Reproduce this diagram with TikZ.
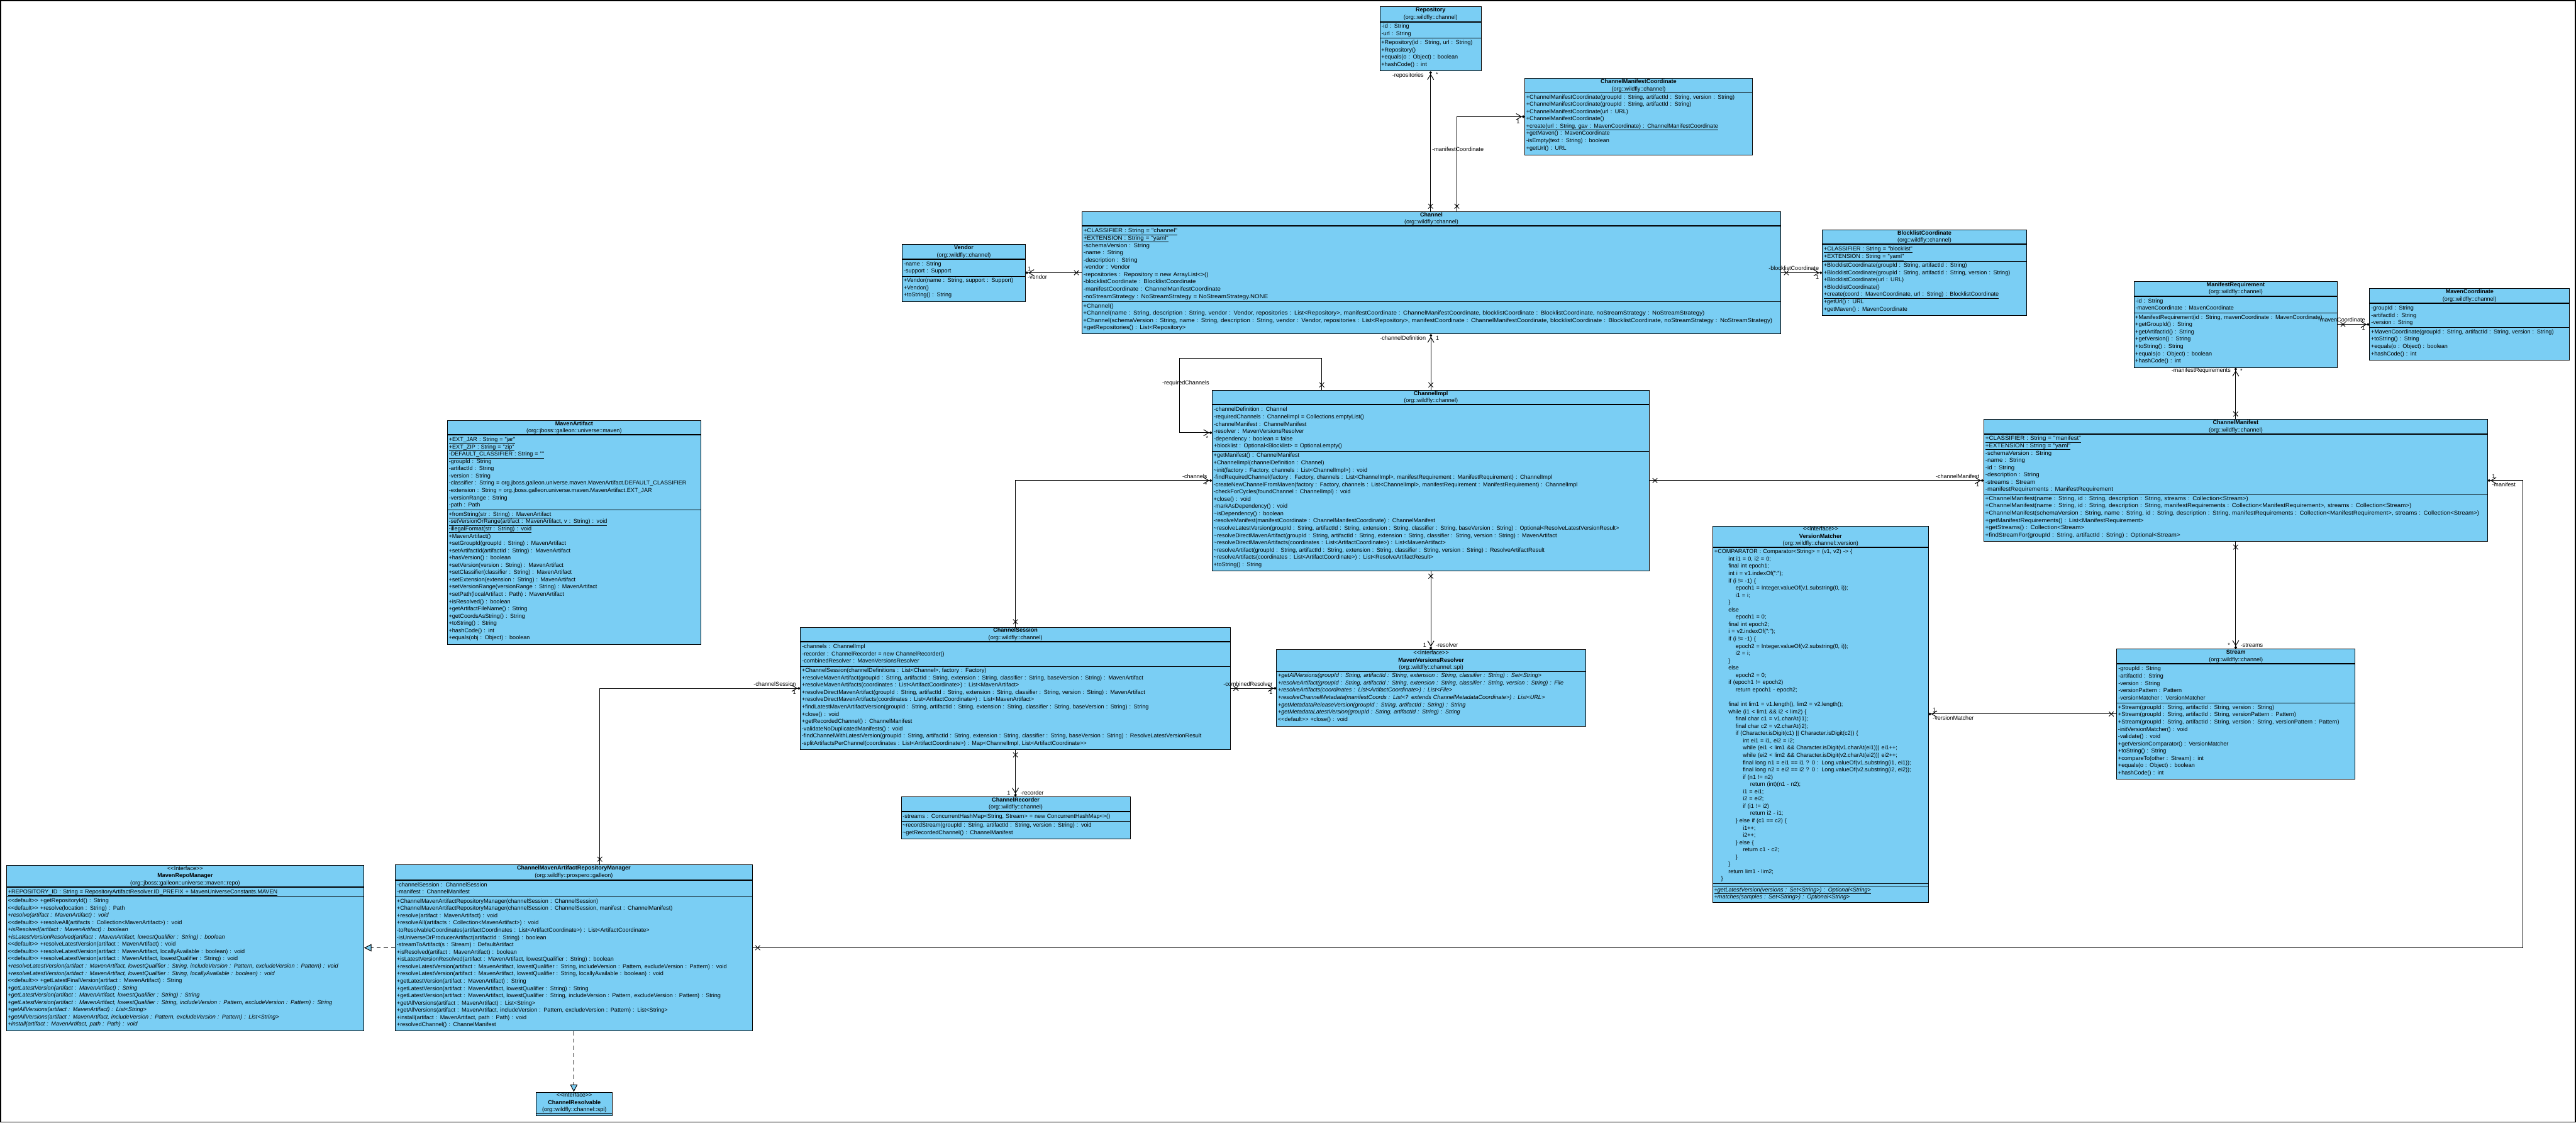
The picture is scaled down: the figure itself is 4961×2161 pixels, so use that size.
\documentclass[tikz,border=0pt]{standalone}
\usepackage{fontspec}
\newfontfamily\umlfont{Liberation Sans}
\newfontfamily\umlmid[FakeStretch=1.07]{Liberation Sans}
\usetikzlibrary{
  arrows.meta,
  positioning,
  calc,
  shapes.misc
}
\definecolor{umlblue}{RGB}{122,206,244}
\newcommand{\rows}[1]{\noindent\begin{tabular}{@{}l@{}}#1\end{tabular}}
\newcommand{\indl}[1]{\hspace*{#1pt}}

\begin{document}
\begin{tikzpicture}[
      x=1pt, y=-1pt,
      every node/.style={font=\umlfont\fontsize{11}{14}\selectfont},
      box/.style={draw, fill=umlblue, line width=1.2pt, anchor=north west,
                  inner sep=0pt},
      head/.style={draw, line width=1.2pt, anchor=north west, align=center,
                   inner xsep=3pt, inner ysep=0pt},
      part/.style={anchor=north west, inner xsep=3pt, inner ysep=1pt},
      sep/.style={part, draw, line width=1.2pt},
      mid/.style={font=\umlmid\fontsize{11}{14}\selectfont},
      own/.style={line width=1.2pt,
                  -{Straight Barb[length=10pt, width=12pt, line width=1.2pt]Circle[length=5pt]}},
      real/.style={line width=1.2pt, dash pattern=on 8pt off 6pt,
                   -{Triangle[length=14pt, width=14pt, fill=umlblue, line width=1.2pt]}},
      xm/.style={cross out, draw, line width=1.1pt, minimum size=8pt, inner sep=0pt},
      lab/.style={inner sep=1pt}
  ]
      \useasboundingbox (0,0) rectangle (4961,2161);
      \draw[line width=2pt] (1,1) rectangle (4960,2160);

      % Repository
      \node[box, minimum width=195pt, minimum height=124pt] (repo) at (2657,12) {};
      \node[head, minimum width=195pt, minimum height=29pt] (repo-h) at (repo.north west)
          {\textbf{Repository}\\(org::wildfly::channel)};
      \node[sep, text width=189pt, minimum height=31pt] (repo-a) at (repo-h.south west)
          {\rows{-id : String\\-url : String}};
      \node[part, text width=189pt] (repo-m) at (repo-a.south west)
          {\rows{+Repository(id : String, url : String)\\+Repository()\\
           +equals(o : Object) : boolean\\+hashCode() : int}};

      % ChannelManifestCoordinate
      \node[box, minimum width=438pt, minimum height=148pt] (cmc) at (2936,150) {};
      \node[head, minimum width=438pt, minimum height=28pt] (cmc-h) at (cmc.north west)
          {\textbf{ChannelManifestCoordinate}\\(org::wildfly::channel)};
      \node[part, text width=432pt] (cmc-m) at (cmc-h.south west)
          {\rows{+ChannelManifestCoordinate(groupId : String, artifactId : String, version : String)\\
           +ChannelManifestCoordinate(groupId : String, artifactId : String)\\
           +ChannelManifestCoordinate(url : URL)\\
           +ChannelManifestCoordinate()\\
           \underline{+create(url : String, gav : MavenCoordinate) : ChannelManifestCoordinate}\\
           +getMaven() : MavenCoordinate\\
           -isEmpty(text : String) : boolean\\
           +getUrl() : URL}};

      % Channel
      \node[box, minimum width=1346pt, minimum height=235pt] (chan) at (2083,407) {};
      \node[head, minimum width=1346pt, minimum height=27pt] (chan-h) at (chan.north west)
          {\textbf{Channel}\\(org::wildfly::channel)};
      \node[sep, mid, text width=1340pt, minimum height=145pt] (chan-a) at (chan-h.south west)
          {\rows{\underline{+CLASSIFIER : String = "channel"}\\
           \underline{+EXTENSION : String = "yaml"}\\
           -schemaVersion : String\\
           -name : String\\
           -description : String\\
           -vendor : Vendor\\
           -repositories : Repository = new ArrayList<>()\\
           -blocklistCoordinate : BlocklistCoordinate\\
           -manifestCoordinate : ChannelManifestCoordinate\\
           -noStreamStrategy : NoStreamStrategy = NoStreamStrategy.NONE}};
      \node[part, mid, text width=1340pt] (chan-m) at (chan-a.south west)
          {\rows{+Channel()\\
           +Channel(name : String, description : String, vendor : Vendor, repositories : List<Repository>, manifestCoordinate : ChannelManifestCoordinate, blocklistCoordinate : BlocklistCoordinate, noStreamStrategy : NoStreamStrategy)\\
           +Channel(schemaVersion : String, name : String, description : String, vendor : Vendor, repositories : List<Repository>, manifestCoordinate : ChannelManifestCoordinate, blocklistCoordinate : BlocklistCoordinate, noStreamStrategy : NoStreamStrategy)\\
           +getRepositories() : List<Repository>}};

      % Vendor
      \node[box, minimum width=237pt, minimum height=110pt] (vend) at (1737,470) {};
      \node[head, minimum width=237pt, minimum height=28pt] (vend-h) at (vend.north west)
          {\textbf{Vendor}\\(org::wildfly::channel)};
      \node[sep, text width=231pt, minimum height=32pt] (vend-a) at (vend-h.south west)
          {\rows{-name : String\\-support : Support}};
      \node[part, text width=231pt] (vend-m) at (vend-a.south west)
          {\rows{+Vendor(name : String, support : Support)\\+Vendor()\\+toString() : String}};

      % BlocklistCoordinate
      \node[box, minimum width=393pt, minimum height=165pt] (blc) at (3509,442) {};
      \node[head, minimum width=393pt, minimum height=27pt] (blc-h) at (blc.north west)
          {\textbf{BlocklistCoordinate}\\(org::wildfly::channel)};
      \node[sep, text width=387pt, minimum height=32pt] (blc-a) at (blc-h.south west)
          {\rows{\underline{+CLASSIFIER : String = "blocklist"}\\
           \underline{+EXTENSION : String = "yaml"}}};
      \node[part, text width=387pt] (blc-m) at (blc-a.south west)
          {\rows{+BlocklistCoordinate(groupId : String, artifactId : String)\\
           +BlocklistCoordinate(groupId : String, artifactId : String, version : String)\\
           +BlocklistCoordinate(url : URL)\\
           +BlocklistCoordinate()\\
           \underline{+create(coord : MavenCoordinate, url : String) : BlocklistCoordinate}\\
           +getUrl() : URL\\
           +getMaven() : MavenCoordinate}};

      % ManifestRequirement
      \node[box, minimum width=392pt, minimum height=166pt] (mreq) at (4109,541) {};
      \node[head, minimum width=392pt, minimum height=28pt] (mreq-h) at (mreq.north west)
          {\textbf{ManifestRequirement}\\(org::wildfly::channel)};
      \node[sep, text width=386pt, minimum height=32pt] (mreq-a) at (mreq-h.south west)
          {\rows{-id : String\\-mavenCoordinate : MavenCoordinate}};
      \node[part, text width=386pt] (mreq-m) at (mreq-a.south west)
          {\rows{+ManifestRequirement(id : String, mavenCoordinate : MavenCoordinate)\\
           +getGroupId() : String\\
           +getArtifactId() : String\\
           +getVersion() : String\\
           +toString() : String\\
           +equals(o : Object) : boolean\\
           +hashCode() : int}};

      % MavenCoordinate
      \node[box, minimum width=385pt, minimum height=138pt] (mcoord) at (4563,555) {};
      \node[head, minimum width=385pt, minimum height=28pt] (mcoord-h) at (mcoord.north west)
          {\textbf{MavenCoordinate}\\(org::wildfly::channel)};
      \node[sep, text width=379pt, minimum height=46pt] (mcoord-a) at (mcoord-h.south west)
          {\rows{-groupId : String\\-artifactId : String\\-version : String}};
      \node[part, text width=379pt] (mcoord-m) at (mcoord-a.south west)
          {\rows{+MavenCoordinate(groupId : String, artifactId : String, version : String)\\
           +toString() : String\\
           +equals(o : Object) : boolean\\
           +hashCode() : int}};

      % ChannelImpl
      \node[box, minimum width=842pt, minimum height=347pt] (cimpl) at (2334,751) {};
      \node[head, minimum width=842pt, minimum height=27pt] (cimpl-h) at (cimpl.north west)
          {\textbf{ChannelImpl}\\(org::wildfly::channel)};
      \node[sep, text width=836pt, minimum height=89pt] (cimpl-a) at (cimpl-h.south west)
          {\rows{-channelDefinition : Channel\\
           -requiredChannels : ChannelImpl = Collections.emptyList()\\
           -channelManifest : ChannelManifest\\
           -resolver : MavenVersionsResolver\\
           -dependency : boolean = false\\
           +blocklist : Optional<Blocklist> = Optional.empty()}};
      \node[part, text width=836pt] (cimpl-m) at (cimpl-a.south west)
          {\rows{+getManifest() : ChannelManifest\\
           +ChannelImpl(channelDefinition : Channel)\\
           \textasciitilde init(factory : Factory, channels : List<ChannelImpl>) : void\\
           -findRequiredChannel(factory : Factory, channels : List<ChannelImpl>, manifestRequirement : ManifestRequirement) : ChannelImpl\\
           -createNewChannelFromMaven(factory : Factory, channels : List<ChannelImpl>, manifestRequirement : ManifestRequirement) : ChannelImpl\\
           -checkForCycles(foundChannel : ChannelImpl) : void\\
           +close() : void\\
           -markAsDependency() : void\\
           \textasciitilde isDependency() : boolean\\
           -resolveManifest(manifestCoordinate : ChannelManifestCoordinate) : ChannelManifest\\
           \textasciitilde resolveLatestVersion(groupId : String, artifactId : String, extension : String, classifier : String, baseVersion : String) : Optional<ResolveLatestVersionResult>\\
           \textasciitilde resolveDirectMavenArtifact(groupId : String, artifactId : String, extension : String, classifier : String, version : String) : MavenArtifact\\
           \textasciitilde resolveDirectMavenArtifacts(coordinates : List<ArtifactCoordinate>) : List<MavenArtifact>\\
           \textasciitilde resolveArtifact(groupId : String, artifactId : String, extension : String, classifier : String, version : String) : ResolveArtifactResult\\
           \textasciitilde resolveArtifacts(coordinates : List<ArtifactCoordinate>) : List<ResolveArtifactResult>\\
           +toString() : String}};

      % MavenArtifact
      \node[box, minimum width=488pt, minimum height=431pt] (mart) at (861,809) {};
      \node[head, minimum width=488pt, minimum height=27pt] (mart-h) at (mart.north west)
          {\textbf{MavenArtifact}\\(org::jboss::galleon::universe::maven)};
      \node[sep, text width=482pt, minimum height=144pt] (mart-a) at (mart-h.south west)
          {\rows{\underline{+EXT\_JAR : String = "jar"}\\
           \underline{+EXT\_ZIP : String = "zip"}\\
           \underline{-DEFAULT\_CLASSIFIER : String = ""}\\
           -groupId : String\\
           -artifactId : String\\
           -version : String\\
           -classifier : String = org.jboss.galleon.universe.maven.MavenArtifact.DEFAULT\_CLASSIFIER\\
           -extension : String = org.jboss.galleon.universe.maven.MavenArtifact.EXT\_JAR\\
           -versionRange : String\\
           -path : Path}};
      \node[part, text width=482pt] (mart-m) at (mart-a.south west)
          {\rows{\underline{+fromString(str : String) : MavenArtifact}\\
           \underline{-setVersionOrRange(artifact : MavenArtifact, v : String) : void}\\
           \underline{-illegalFormat(str : String) : void}\\
           +MavenArtifact()\\
           +setGroupId(groupId : String) : MavenArtifact\\
           +setArtifactId(artifactId : String) : MavenArtifact\\
           +hasVersion() : boolean\\
           +setVersion(version : String) : MavenArtifact\\
           +setClassifier(classifier : String) : MavenArtifact\\
           +setExtension(extension : String) : MavenArtifact\\
           +setVersionRange(versionRange : String) : MavenArtifact\\
           +setPath(localArtifact : Path) : MavenArtifact\\
           +isResolved() : boolean\\
           +getArtifactFileName() : String\\
           +getCoordsAsString() : String\\
           +toString() : String\\
           +hashCode() : int\\
           +equals(obj : Object) : boolean}};

      % ChannelManifest
      \node[box, minimum width=970pt, minimum height=235pt] (cman) at (3820,807) {};
      \node[head, minimum width=970pt, minimum height=27pt] (cman-h) at (cman.north west)
          {\textbf{ChannelManifest}\\(org::wildfly::channel)};
      \node[sep, mid, text width=964pt, minimum height=116pt] (cman-a) at (cman-h.south west)
          {\rows{\underline{+CLASSIFIER : String = "manifest"}\\
           \underline{+EXTENSION : String = "yaml"}\\
           -schemaVersion : String\\
           -name : String\\
           -id : String\\
           -description : String\\
           -streams : Stream\\
           -manifestRequirements : ManifestRequirement}};
      \node[part, mid, text width=964pt] (cman-m) at (cman-a.south west)
          {\rows{+ChannelManifest(name : String, id : String, description : String, streams : Collection<Stream>)\\
           +ChannelManifest(name : String, id : String, description : String, manifestRequirements : Collection<ManifestRequirement>, streams : Collection<Stream>)\\
           +ChannelManifest(schemaVersion : String, name : String, id : String, description : String, manifestRequirements : Collection<ManifestRequirement>, streams : Collection<Stream>)\\
           +getManifestRequirements() : List<ManifestRequirement>\\
           +getStreams() : Collection<Stream>\\
           +findStreamFor(groupId : String, artifactId : String) : Optional<Stream>}};

      % VersionMatcher
      \node[box, minimum width=415pt, minimum height=725pt] (vmat) at (3298,1012) {};
      \node[head, minimum width=415pt, minimum height=41pt] (vmat-h) at (vmat.north west)
          {<<Interface>>\\\textbf{VersionMatcher}\\(org::wildfly::channel::version)};
      \node[sep, text width=409pt, minimum height=644pt] (vmat-a) at (vmat-h.south west)
          {\rows{+COMPARATOR : Comparator<String> = (v1, v2) -> \{\\
           \indl{27}int i1 = 0, i2 = 0;\\
           \indl{27}final int epoch1;\\
           \indl{27}int i = v1.indexOf(":");\\
           \indl{27}if (i != -1) \{\\
           \indl{41}epoch1 = Integer.valueOf(v1.substring(0, i));\\
           \indl{41}i1 = i;\\
           \indl{27}\}\\
           \indl{27}else\\
           \indl{41}epoch1 = 0;\\
           \indl{27}final int epoch2;\\
           \indl{27}i = v2.indexOf(":");\\
           \indl{27}if (i != -1) \{\\
           \indl{41}epoch2 = Integer.valueOf(v2.substring(0, i));\\
           \indl{41}i2 = i;\\
           \indl{27}\}\\
           \indl{27}else\\
           \indl{41}epoch2 = 0;\\
           \indl{27}if (epoch1 != epoch2)\\
           \indl{41}return epoch1 - epoch2;\\
           \mbox{}\\
           \indl{27}final int lim1 = v1.length(), lim2 = v2.length();\\
           \indl{27}while (i1 < lim1 \&\& i2 < lim2) \{\\
           \indl{41}final char c1 = v1.charAt(i1);\\
           \indl{41}final char c2 = v2.charAt(i2);\\
           \indl{41}if (Character.isDigit(c1) || Character.isDigit(c2)) \{\\
           \indl{55}int ei1 = i1, ei2 = i2;\\
           \indl{55}while (ei1 < lim1 \&\& Character.isDigit(v1.charAt(ei1))) ei1++;\\
           \indl{55}while (ei2 < lim2 \&\& Character.isDigit(v2.charAt(ei2))) ei2++;\\
           \indl{55}final long n1 = ei1 == i1 ? 0 : Long.valueOf(v1.substring(i1, ei1));\\
           \indl{55}final long n2 = ei2 == i2 ? 0 : Long.valueOf(v2.substring(i2, ei2));\\
           \indl{55}if (n1 != n2)\\
           \indl{69}return (int)(n1 - n2);\\
           \indl{55}i1 = ei1;\\
           \indl{55}i2 = ei2;\\
           \indl{55}if (i1 != i2)\\
           \indl{69}return i2 - i1;\\
           \indl{41}\} else if (c1 == c2) \{\\
           \indl{55}i1++;\\
           \indl{55}i2++;\\
           \indl{41}\} else \{\\
           \indl{55}return c1 - c2;\\
           \indl{41}\}\\
           \indl{27}\}\\
           \indl{27}return lim1 - lim2;\\
           \indl{13}\}}};
      \draw[line width=1.2pt] ($(vmat-a.south west)+(0,4)$) -- ($(vmat-a.south east)+(0,4)$);
      \node[part, text width=409pt] (vmat-m) at ($(vmat-a.south west)+(0,4)$)
          {\rows{\underline{\textit{+getLatestVersion(versions : Set<String>) : Optional<String>}}\\
           \textit{+matches(samples : Set<String>) : Optional<String>}}};

      % ChannelSession
      \node[box, minimum width=828pt, minimum height=235pt] (csess) at (1541,1207) {};
      \node[head, minimum width=828pt, minimum height=27pt] (csess-h) at (csess.north west)
          {\textbf{ChannelSession}\\(org::wildfly::channel)};
      \node[sep, text width=822pt, minimum height=47pt] (csess-a) at (csess-h.south west)
          {\rows{-channels : ChannelImpl\\
           -recorder : ChannelRecorder = new ChannelRecorder()\\
           -combinedResolver : MavenVersionsResolver}};
      \node[part, text width=822pt] (csess-m) at (csess-a.south west)
          {\rows{+ChannelSession(channelDefinitions : List<Channel>, factory : Factory)\\
           +resolveMavenArtifact(groupId : String, artifactId : String, extension : String, classifier : String, baseVersion : String) : MavenArtifact\\
           +resolveMavenArtifacts(coordinates : List<ArtifactCoordinate>) : List<MavenArtifact>\\
           +resolveDirectMavenArtifact(groupId : String, artifactId : String, extension : String, classifier : String, version : String) : MavenArtifact\\
           +resolveDirectMavenArtifacts(coordinates : List<ArtifactCoordinate>) : List<MavenArtifact>\\
           +findLatestMavenArtifactVersion(groupId : String, artifactId : String, extension : String, classifier : String, baseVersion : String) : String\\
           +close() : void\\
           +getRecordedChannel() : ChannelManifest\\
           -validateNoDuplicatedManifests() : void\\
           -findChannelWithLatestVersion(groupId : String, artifactId : String, extension : String, classifier : String, baseVersion : String) : ResolveLatestVersionResult\\
           -splitArtifactsPerChannel(coordinates : List<ArtifactCoordinate>) : Map<ChannelImpl, List<ArtifactCoordinate>{}>}};

      % MavenVersionsResolver
      \node[box, minimum width=595pt, minimum height=148pt] (mvr) at (2458,1250) {};
      \node[head, minimum width=595pt, minimum height=42pt] (mvr-h) at (mvr.north west)
          {<<Interface>>\\\textbf{MavenVersionsResolver}\\(org::wildfly::channel::spi)};
      \node[part, text width=589pt] (mvr-m) at (mvr-h.south west)
          {\rows{\textit{+getAllVersions(groupId : String, artifactId : String, extension : String, classifier : String) : Set<String>}\\
           \textit{+resolveArtifact(groupId : String, artifactId : String, extension : String, classifier : String, version : String) : File}\\
           \textit{+resolveArtifacts(coordinates : List<ArtifactCoordinate>) : List<File>}\\
           \textit{+resolveChannelMetadata(manifestCoords : List<? extends ChannelMetadataCoordinate>) : List<URL>}\\
           \textit{+getMetadataReleaseVersion(groupId : String, artifactId : String) : String}\\
           \textit{+getMetadataLatestVersion(groupId : String, artifactId : String) : String}\\
           <<default>> +close() : void}};

      % Stream
      \node[box, minimum width=459pt, minimum height=250pt] (strm) at (4076,1249) {};
      \node[head, minimum width=459pt, minimum height=28pt] (strm-h) at (strm.north west)
          {\textbf{Stream}\\(org::wildfly::channel)};
      \node[sep, text width=453pt, minimum height=75pt] (strm-a) at (strm-h.south west)
          {\rows{-groupId : String\\
           -artifactId : String\\
           -version : String\\
           -versionPattern : Pattern\\
           -versionMatcher : VersionMatcher}};
      \node[part, text width=453pt] (strm-m) at (strm-a.south west)
          {\rows{+Stream(groupId : String, artifactId : String, version : String)\\
           +Stream(groupId : String, artifactId : String, versionPattern : Pattern)\\
           +Stream(groupId : String, artifactId : String, version : String, versionPattern : Pattern)\\
           -initVersionMatcher() : void\\
           -validate() : void\\
           +getVersionComparator() : VersionMatcher\\
           +toString() : String\\
           +compareTo(other : Stream) : int\\
           +equals(o : Object) : boolean\\
           +hashCode() : int}};

      % ChannelRecorder
      \node[box, minimum width=441pt, minimum height=82pt] (crec) at (1735,1533) {};
      \node[head, minimum width=441pt, minimum height=28pt] (crec-h) at (crec.north west)
          {\textbf{ChannelRecorder}\\(org::wildfly::channel)};
      \node[sep, text width=435pt, minimum height=18pt] (crec-a) at (crec-h.south west)
          {\rows{-streams : ConcurrentHashMap<String, Stream> = new ConcurrentHashMap<>()}};
      \node[part, text width=435pt] (crec-m) at (crec-a.south west)
          {\rows{\textasciitilde recordStream(groupId : String, artifactId : String, version : String) : void\\
           \textasciitilde getRecordedChannel() : ChannelManifest}};

      % MavenRepoManager
      \node[box, minimum width=688pt, minimum height=319pt] (mrm) at (12,1665) {};
      \node[head, minimum width=688pt, minimum height=42pt] (mrm-h) at (mrm.north west)
          {<<Interface>>\\\textbf{MavenRepoManager}\\(org::jboss::galleon::universe::maven::repo)};
      \node[sep, text width=682pt, minimum height=17pt] (mrm-a) at (mrm-h.south west)
          {\rows{\underline{+REPOSITORY\_ID : String = RepositoryArtifactResolver.ID\_PREFIX + MavenUniverseConstants.MAVEN}}};
      \node[part, text width=682pt] (mrm-m) at (mrm-a.south west)
          {\rows{<<default>> +getRepositoryId() : String\\
           <<default>> +resolve(location : String) : Path\\
           \textit{+resolve(artifact : MavenArtifact) : void}\\
           <<default>> +resolveAll(artifacts : Collection<MavenArtifact>) : void\\
           \textit{+isResolved(artifact : MavenArtifact) : boolean}\\
           \textit{+isLatestVersionResolved(artifact : MavenArtifact, lowestQualifier : String) : boolean}\\
           <<default>> +resolveLatestVersion(artifact : MavenArtifact) : void\\
           <<default>> +resolveLatestVersion(artifact : MavenArtifact, locallyAvailable : boolean) : void\\
           <<default>> +resolveLatestVersion(artifact : MavenArtifact, lowestQualifier : String) : void\\
           \textit{+resolveLatestVersion(artifact : MavenArtifact, lowestQualifier : String, includeVersion : Pattern, excludeVersion : Pattern) : void}\\
           \textit{+resolveLatestVersion(artifact : MavenArtifact, lowestQualifier : String, locallyAvailable : boolean) : void}\\
           <<default>> +getLatestFinalVersion(artifact : MavenArtifact) : String\\
           \textit{+getLatestVersion(artifact : MavenArtifact) : String}\\
           \textit{+getLatestVersion(artifact : MavenArtifact, lowestQualifier : String) : String}\\
           \textit{+getLatestVersion(artifact : MavenArtifact, lowestQualifier : String, includeVersion : Pattern, excludeVersion : Pattern) : String}\\
           \textit{+getAllVersions(artifact : MavenArtifact) : List<String>}\\
           \textit{+getAllVersions(artifact : MavenArtifact, includeVersion : Pattern, excludeVersion : Pattern) : List<String>}\\
           \textit{+install(artifact : MavenArtifact, path : Path) : void}}};

      % ChannelMavenArtifactRepositoryManager
      \node[box, minimum width=687pt, minimum height=320pt] (cmarm) at (761,1664) {};
      \node[head, minimum width=687pt, minimum height=29pt] (cmarm-h) at (cmarm.north west)
          {\textbf{ChannelMavenArtifactRepositoryManager}\\(org::wildfly::prospero::galleon)};
      \node[sep, text width=681pt, minimum height=32pt] (cmarm-a) at (cmarm-h.south west)
          {\rows{-channelSession : ChannelSession\\-manifest : ChannelManifest}};
      \node[part, text width=681pt] (cmarm-m) at (cmarm-a.south west)
          {\rows{+ChannelMavenArtifactRepositoryManager(channelSession : ChannelSession)\\
           +ChannelMavenArtifactRepositoryManager(channelSession : ChannelSession, manifest : ChannelManifest)\\
           +resolve(artifact : MavenArtifact) : void\\
           +resolveAll(artifacts : Collection<MavenArtifact>) : void\\
           -toResolvableCoordinates(artifactCoordinates : List<ArtifactCoordinate>) : List<ArtifactCoordinate>\\
           -isUniverseOrProducerArtifact(artifactId : String) : boolean\\
           -streamToArtifact(s : Stream) : DefaultArtifact\\
           +isResolved(artifact : MavenArtifact) : boolean\\
           +isLatestVersionResolved(artifact : MavenArtifact, lowestQualifier : String) : boolean\\
           +resolveLatestVersion(artifact : MavenArtifact, lowestQualifier : String, includeVersion : Pattern, excludeVersion : Pattern) : void\\
           +resolveLatestVersion(artifact : MavenArtifact, lowestQualifier : String, locallyAvailable : boolean) : void\\
           +getLatestVersion(artifact : MavenArtifact) : String\\
           +getLatestVersion(artifact : MavenArtifact, lowestQualifier : String) : String\\
           +getLatestVersion(artifact : MavenArtifact, lowestQualifier : String, includeVersion : Pattern, excludeVersion : Pattern) : String\\
           +getAllVersions(artifact : MavenArtifact) : List<String>\\
           +getAllVersions(artifact : MavenArtifact, includeVersion : Pattern, excludeVersion : Pattern) : List<String>\\
           +install(artifact : MavenArtifact, path : Path) : void\\
           +resolvedChannel() : ChannelManifest}};

      % ChannelResolvable
      \node[box, minimum width=147pt, minimum height=45pt] (cres) at (1032,2102) {};
      \node[head, minimum width=147pt, minimum height=41pt] (cres-h) at (cres.north west)
          {<<Interface>>\\\textbf{ChannelResolvable}\\(org::wildfly::channel::spi)};

      % Associations
      \draw[own] (repo.south |- chan.north) -- (repo.south);
      \node[xm] (xa) at ($(repo.south |- chan.north)+(0,-10)$) {};
      \node[lab, anchor=east] (la1) at (2743,145) {-repositories};
      \node[lab, anchor=west] (la2) at (2764,143) {*};

      \draw[own] ($(chan.north)+(49,0)$) |- (cmc.west);
      \node[xm] (xb) at ($(chan.north)+(49,-10)$) {};
      \node[lab, anchor=west] (lb1) at (2757,287) {-manifestCoordinate};
      \node[lab, anchor=east] (lb2) at (2928,234) {1};

      \draw[own] (chan.west) -- (chan.west -| vend.east);
      \node[xm] (xc) at ($(chan.west)+(-10,0)$) {};
      \node[lab, anchor=south west] (lc1) at (1978,522) {1};
      \node[lab, anchor=north west] (lc2) at (1978,528) {-vendor};

      \draw[own] (chan.east) -- (chan.east -| blc.west);
      \node[xm] (xd) at ($(chan.east)+(10,0)$) {};
      \node[lab, anchor=south east] (ld1) at (3504,522) {-blocklistCoordinate};
      \node[lab, anchor=north east] (ld2) at (3504,528) {1};

      \draw[own] (cimpl.north) -- (cimpl.north |- chan.south);
      \node[xm] (xe) at ($(cimpl.north)+(0,-10)$) {};
      \node[lab, anchor=east] (le1) at (2747,651) {-channelDefinition};
      \node[lab, anchor=west] (le2) at (2764,651) {1};

      \coordinate (rc) at (2272,690);
      \draw[own] ($(cimpl.north)+(-210,0)$) |- (rc) |- ($(cimpl.north west)+(0,82)$);
      \node[xm] (xf) at ($(cimpl.north)+(-210,-10)$) {};
      \node[lab, anchor=east] (lf1) at (2330,738) {-requiredChannels};
      \node[lab, anchor=north east] (lf2) at (2328,838) {*};

      \draw[own] (csess.north) |- (cimpl.west);
      \node[xm] (xg) at ($(csess.north)+(0,-10)$) {};
      \node[lab, anchor=south east] (lg1) at (2326,922) {-channels};
      \node[lab, anchor=north east] (lg2) at (2326,928) {*};

      \draw[own] (cimpl.east) -- (cimpl.east -| cman.west);
      \node[xm] (xh) at ($(cimpl.east)+(10,0)$) {};
      \node[lab, anchor=south east] (lh1) at (3813,922) {-channelManifest};
      \node[lab, anchor=north east] (lh2) at (3813,928) {1};

      \draw[own] (cimpl.south) -- (cimpl.south |- mvr.north);
      \node[xm] (xi) at ($(cimpl.south)+(0,10)$) {};
      \node[lab, anchor=east] (li1) at (2748,1242) {1};
      \node[lab, anchor=west] (li2) at (2764,1242) {-resolver};

      \draw[own] (csess.east) -- (csess.east -| mvr.west);
      \node[xm] (xj) at ($(csess.east)+(10,0)$) {};
      \node[lab, anchor=south east] (lj1) at (2452,1322) {-combinedResolver};
      \node[lab, anchor=north east] (lj2) at (2452,1328) {1};

      \draw[own] (csess.south) -- (csess.south |- crec.north);
      \node[xm] (xk) at ($(csess.south)+(0,10)$) {};
      \node[lab, anchor=east] (lk1) at (1947,1526) {1};
      \node[lab, anchor=west] (lk2) at (1964,1526) {-recorder};

      \draw[own] ($(cmarm.north)+(50,0)$) |- (csess.west);
      \node[xm] (xl) at ($(cmarm.north)+(50,-10)$) {};
      \node[lab, anchor=south east] (ll1) at (1534,1322) {-channelSession};
      \node[lab, anchor=north east] (ll2) at (1534,1328) {1};

      \coordinate (mf) at ($(cman.east)+(67,0)$);
      \draw[own] (cmarm.east) -| (mf) -- (cman.east);
      \node[xm] (xm1) at ($(cmarm.east)+(10,0)$) {};
      \node[lab, anchor=south west] (lm1) at (4798,922) {1};
      \node[lab, anchor=north west] (lm2) at (4798,928) {-manifest};

      \draw[own] (cman.south) -- (cman.south |- strm.north);
      \node[xm] (xn) at ($(cman.south)+(0,10)$) {};
      \node[lab, anchor=east] (ln1) at (4296,1242) {*};
      \node[lab, anchor=west] (ln2) at (4314,1242) {-streams};

      \draw[own] (cman.north) -- (cman.north |- mreq.south);
      \node[xm] (xo) at ($(cman.north)+(0,-10)$) {};
      \node[lab, anchor=east] (lo1) at (4297,714) {-manifestRequirements};
      \node[lab, anchor=west] (lo2) at (4313,714) {*};

      \draw[own] (mreq.east) -- (mreq.east -| mcoord.west);
      \node[xm] (xp) at ($(mreq.east)+(10,0)$) {};
      \node[lab, anchor=south east] (lp1) at (4556,621) {-mavenCoordinate};
      \node[lab, anchor=north east] (lp2) at (4556,627) {1};

      \draw[own] (strm.west) -- (strm.west -| vmat.east);
      \node[xm] (xq) at ($(strm.west)+(-10,0)$) {};
      \node[lab, anchor=south west] (lq1) at (3721,1372) {1};
      \node[lab, anchor=north west] (lq2) at (3721,1377) {-versionMatcher};

      % Realizations
      \draw[real] (cmarm.west) -- (cmarm.west -| mrm.east);
      \draw[real] (cmarm.south) -- (cmarm.south |- cres.north);
  \end{tikzpicture}
\end{document}
